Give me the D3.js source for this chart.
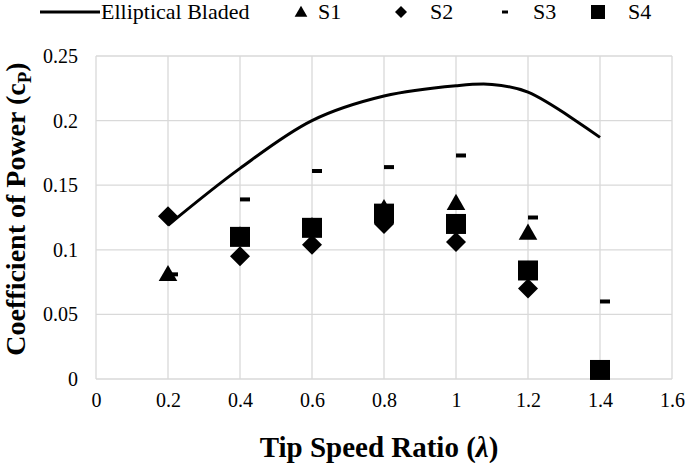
<!DOCTYPE html>
<html>
<head>
<meta charset="utf-8">
<script src="https://cdn.jsdelivr.net/npm/d3@7"></script>
<style>
  body { margin: 0; background: #fff; }
  svg text { font-family: "Liberation Serif", "Times New Roman", "DejaVu Serif", serif; fill: #000; }
</style>
</head>
<body>
<svg id="chart" width="685" height="463"></svg>
<script>
// Data
const tsr = [0.2, 0.4, 0.6, 0.8, 1.0, 1.2, 1.4];
const ellipticalX = [0.2, 0.4, 0.6, 0.8, 1.0, 1.1, 1.2, 1.4];
const ellipticalY = [0.119, 0.163, 0.200, 0.219, 0.227, 0.228, 0.222, 0.187];
const s1 = [0.080, 0.110, 0.117, 0.131, 0.135, 0.112, null];
const s2 = [0.126, 0.095, 0.104, 0.120, 0.106, 0.070, null];
const s3 = [0.081, 0.139, 0.161, 0.164, 0.173, 0.125, 0.060];
const s4 = [null, 0.110, 0.117, 0.128, 0.120, 0.084, 0.007];
const xTicks = [0, 0.2, 0.4, 0.6, 0.8, 1, 1.2, 1.4, 1.6];
const yTicks = [0, 0.05, 0.1, 0.15, 0.2, 0.25];

const serif = '"Liberation Serif", "Times New Roman", "DejaVu Serif", serif';
const svg = d3.select("#chart");
const margin = { top: 56, right: 13, bottom: 84, left: 96 };
const width = 685 - margin.left - margin.right;
const height = 463 - margin.top - margin.bottom;

const x = d3.scaleLinear().domain([0, 1.6]).range([0, width]);
const y = d3.scaleLinear().domain([0, 0.25]).range([height, 0]);

const g = svg.append("g").attr("transform", `translate(${margin.left},${margin.top})`);

// Gridlines
g.selectAll(".vgrid").data(xTicks).enter().append("line")
  .attr("x1", d => x(d)).attr("x2", d => x(d))
  .attr("y1", 0).attr("y2", height)
  .attr("stroke", "#d9d9d9").attr("stroke-width", 1.3);
g.selectAll(".hgrid").data(yTicks).enter().append("line")
  .attr("x1", 0).attr("x2", width)
  .attr("y1", d => y(d)).attr("y2", d => y(d))
  .attr("stroke", "#d9d9d9").attr("stroke-width", 1.3);

// Axes (labels only, Excel style)
const xAxis = g.append("g").attr("transform", `translate(0,${height})`)
  .call(d3.axisBottom(x).tickValues(xTicks).tickSize(0).tickPadding(14).tickFormat(d3.format("")));
const yAxis = g.append("g")
  .call(d3.axisLeft(y).tickValues(yTicks).tickSize(0).tickPadding(18).tickFormat(d3.format("")));
[xAxis, yAxis].forEach(a => {
  a.attr("font-family", null).attr("font-size", null);
  a.select(".domain").remove();
  a.selectAll("text").style("font-size", "20px").style("font-family", serif).attr("fill", "#000");
});

// Elliptical Bladed curve
const line = d3.line().x((d, i) => x(ellipticalX[i])).y(d => y(d)).curve(d3.curveCatmullRom.alpha(0.5));
g.append("path").datum(ellipticalY)
  .attr("d", line).attr("fill", "none").attr("stroke", "#000").attr("stroke-width", 3);

// Markers
const sym = (type, size) => d3.symbol().type(type).size(size)();
function drawSeries(vals, path, dx) {
  g.selectAll(null).data(vals.map((v, i) => [tsr[i], v]).filter(d => d[1] != null))
    .enter().append("path")
    .attr("d", path)
    .attr("transform", d => `translate(${x(d[0]) + (dx || 0)},${y(d[1])})`)
    .attr("fill", "#000");
}
const triPath = sym(d3.symbolTriangle, 150);
const diaPath = "M0,-10L10,0L0,10L-10,0Z";
const dashPath = "M-5,-2H5V2H-5Z";
const sqPath = "M-10,-10H10V10H-10Z";
drawSeries(s1, triPath);
drawSeries(s4, sqPath);
drawSeries(s2, diaPath);
drawSeries(s3, dashPath, 5);

// Legend
const lg = svg.append("g").attr("transform", "translate(0,12)");
lg.append("line").attr("x1", 40).attr("x2", 100).attr("y1", 0).attr("y2", 0)
  .attr("stroke", "#000").attr("stroke-width", 3);
const legendItems = [
  { label: "Elliptical Bladed", tx: 101 },
  { label: "S1", tx: 318, mx: 301, path: sym(d3.symbolTriangle, 70), my: 1 },
  { label: "S2", tx: 430, mx: 401, path: "M0,-6L6,0L0,6L-6,0Z", my: 0 },
  { label: "S3", tx: 533, mx: 505, path: "M-3,-1.5H3V1.5H-3Z", my: 0 },
  { label: "S4", tx: 628, mx: 598, path: "M-7,-7H7V7H-7Z", my: 0 }
];
legendItems.forEach(d => {
  lg.append("text").attr("x", d.tx).attr("y", 7).style("font-size", "22px").text(d.label);
  if (d.path) {
    lg.append("path").attr("d", d.path)
      .attr("transform", `translate(${d.mx},${d.my})`).attr("fill", "#000");
  }
});

// Axis titles
svg.append("text")
  .attr("x", 379).attr("y", 457)
  .attr("text-anchor", "middle").style("font-size", "29px").attr("font-weight", "bold")
  .html('Tip Speed Ratio (<tspan font-style="italic">λ</tspan>)');

const yt = svg.append("text")
  .attr("transform", "translate(25,209) rotate(-90)")
  .attr("text-anchor", "middle").style("font-size", "28px").attr("font-weight", "bold");
yt.append("tspan").text("Coefficient of Power (c");
yt.append("tspan").style("font-size", "19px").attr("dy", 6).text("P");
yt.append("tspan").attr("dy", -6).text(")");
</script>
</body>
</html>
